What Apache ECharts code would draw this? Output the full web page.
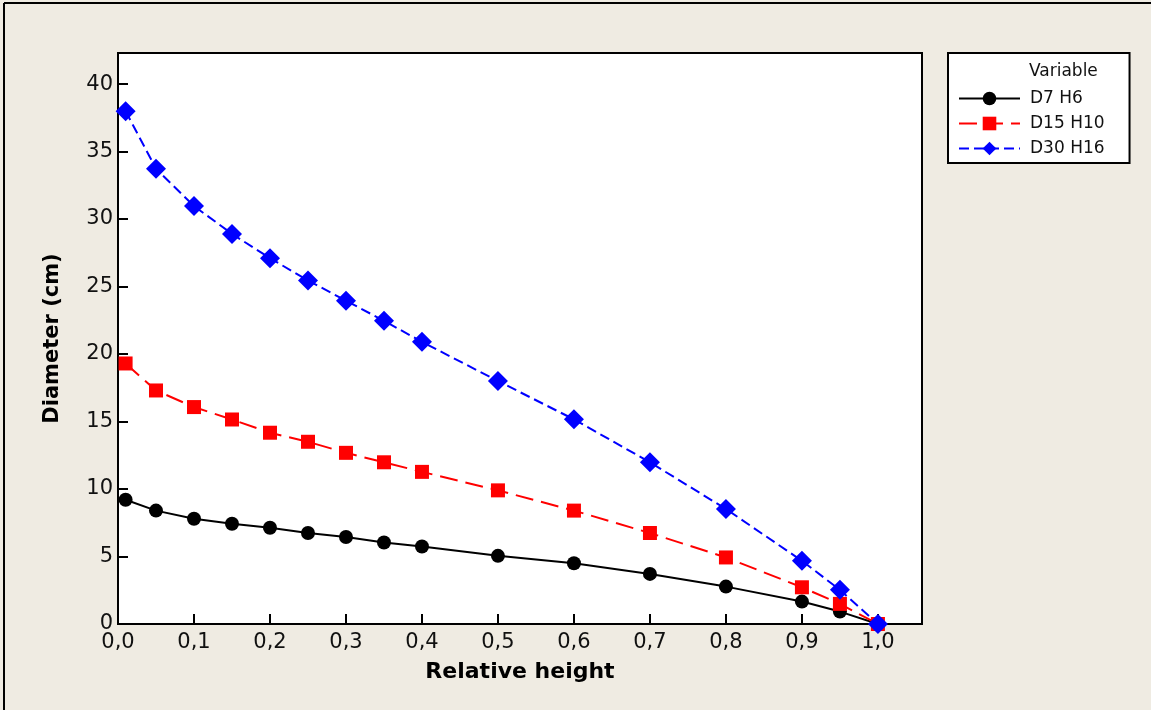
<!DOCTYPE html>
<html>
<head>
<meta charset="utf-8">
<script src="https://cdn.jsdelivr.net/npm/echarts@6/dist/echarts.min.js"></script>
<style>
html,body{margin:0;padding:0;background:#EFEBE2;}
#c{width:1151px;height:710px;}
</style>
</head>
<body>
<div id="c"></div>
<script>
const relHeight = [0.01, 0.05, 0.1, 0.15, 0.2, 0.25, 0.3, 0.35, 0.4, 0.5, 0.6, 0.7, 0.8, 0.9, 0.95, 1.0];
const d7h6   = [9.2, 8.4, 7.8, 7.43, 7.13, 6.74, 6.44, 6.04, 5.74, 5.05, 4.5, 3.71, 2.77, 1.66, 0.92, 0];
const d15h10 = [19.3, 17.3, 16.07, 15.15, 14.17, 13.5, 12.68, 11.98, 11.27, 9.9, 8.4, 6.74, 4.93, 2.72, 1.49, 0];
const d30h16 = [37.99, 33.73, 30.96, 28.9, 27.1, 25.45, 23.95, 22.46, 20.9, 18.0, 15.16, 11.98, 8.52, 4.68, 2.53, 0];
const xTicks = [0, 0.1, 0.2, 0.3, 0.4, 0.5, 0.6, 0.7, 0.8, 0.9, 1.0];
const yTicks = [0, 5, 10, 15, 20, 25, 30, 35, 40];
const seriesNames = ['D7 H6', 'D15 H10', 'D30 H16'];

const pair = arr => relHeight.map((x, i) => [x, arr[i]]);
const FONT = 'DejaVu Sans';

const chart = echarts.init(document.getElementById('c'), null, {renderer: 'canvas'});
chart.setOption({
  backgroundColor: '#EFEBE2',
  animation: false,
  textStyle: {fontFamily: FONT},
  grid: {
    left: 118, top: 53, right: 229, bottom: 86,
    show: true, backgroundColor: '#ffffff', borderColor: '#000', borderWidth: 2,
    containLabel: false
  },
  xAxis: {
    type: 'value', min: 0, max: 1.058,
    name: 'Relative height', nameLocation: 'middle', nameGap: 37,
    nameTextStyle: {fontFamily: FONT, fontWeight: 'bold', fontSize: 22, color: '#000', verticalAlign: 'top'},
    axisLine: {show: true, onZero: false, lineStyle: {color: '#000', width: 2}},
    axisTick: {show: true, inside: true, length: 10, lineStyle: {color: '#000', width: 2}, customValues: xTicks},
    axisLabel: {
      fontFamily: FONT, fontSize: 21, color: '#111', margin: 8,
      customValues: xTicks,
      formatter: v => v.toFixed(1).replace('.', ',')
    },
    splitLine: {show: false}
  },
  yAxis: {
    type: 'value', min: 0, max: 42.3,
    name: 'Diameter (cm)', nameLocation: 'middle', nameGap: 55, nameRotate: 90,
    nameTextStyle: {fontFamily: FONT, fontWeight: 'bold', fontSize: 21, color: '#000'},
    axisLine: {show: true, lineStyle: {color: '#000', width: 2}},
    axisTick: {show: true, inside: true, length: 10, lineStyle: {color: '#000', width: 2}, customValues: yTicks},
    axisLabel: {fontFamily: FONT, fontSize: 21, color: '#111', margin: 5, customValues: yTicks},
    splitLine: {show: false}
  },
  legend: {
    orient: 'vertical',
    left: 948, top: 53,
    padding: [37, 25, 6, 10],
    itemWidth: 61, itemHeight: 17, itemGap: 8,
    backgroundColor: '#ffffff', borderColor: '#000', borderWidth: 2, borderRadius: 0,
    textStyle: {fontFamily: FONT, fontSize: 17, color: '#111', padding: [0, 0, 0, 5]},
    data: seriesNames
  },
  graphic: [
    {type: 'line', shape: {x1: 4, y1: 3, x2: 1151, y2: 3}, style: {stroke: '#000', lineWidth: 2}, silent: true},
    {type: 'line', shape: {x1: 4, y1: 3, x2: 4, y2: 710}, style: {stroke: '#000', lineWidth: 2}, silent: true},
    {type: 'text', left: 1029, top: 63, style: {text: 'Variable', font: '17px "DejaVu Sans"', fill: '#111'}, z: 100}
  ],
  series: [
    {
      name: seriesNames[0], type: 'line', data: pair(d7h6),
      symbol: 'circle', symbolSize: 14,
      itemStyle: {color: '#000'},
      lineStyle: {color: '#000', width: 2, type: 'solid'}
    },
    {
      name: seriesNames[1], type: 'line', data: pair(d15h10),
      symbol: 'rect', symbolSize: 14,
      itemStyle: {color: '#FF0000'},
      lineStyle: {color: '#FF0000', width: 2, type: [18, 8]}
    },
    {
      name: seriesNames[2], type: 'line', data: pair(d30h16),
      symbol: 'diamond', symbolSize: 20,
      itemStyle: {color: '#0000FF'},
      lineStyle: {color: '#0000FF', width: 2, type: [10, 5]}
    }
  ]
});
</script>
</body>
</html>
